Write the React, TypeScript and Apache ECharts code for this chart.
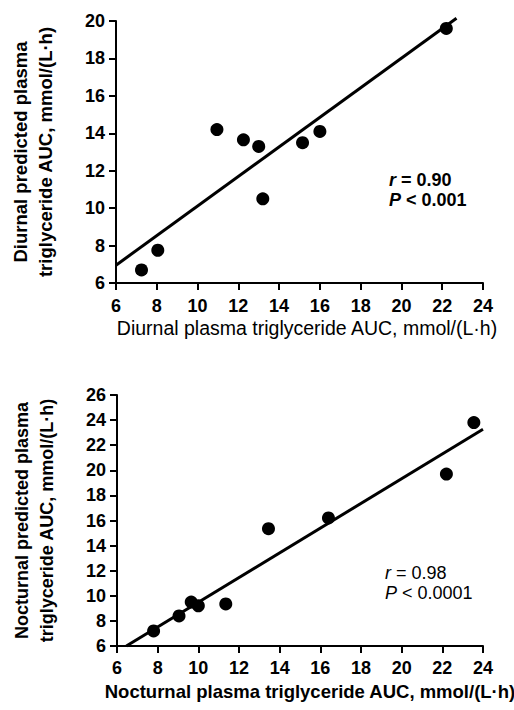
import React, { useEffect, useRef } from "react";
import * as echarts from "echarts";

const diurnalX = [7.25, 8.05, 10.95, 12.25, 13.0, 13.2, 15.15, 16.0, 22.2];
const diurnalY = [6.7, 7.75, 14.2, 13.65, 13.3, 10.5, 13.5, 14.1, 19.6];
const diurnalFit = [
  [6, 6.95],
  [22.7, 20.15],
];
const nocturnalX = [7.8, 9.05, 9.65, 10.0, 11.35, 13.45, 16.4, 22.2, 23.55];
const nocturnalY = [7.2, 8.4, 9.5, 9.2, 9.35, 15.35, 16.2, 19.7, 23.8];
const nocturnalFit = [
  [6.46, 6],
  [24, 23.27],
];
const diurnalStats = ["0.90", "0.001"];
const nocturnalStats = ["0.98", "0.0001"];
const xTitles = [
  "Diurnal plasma triglyceride AUC, mmol/(L·h)",
  "Nocturnal plasma triglyceride AUC, mmol/(L·h)",
];
const yTitles = [
  "Diurnal predicted plasma\ntriglyceride AUC, mmol/(L·h)",
  "Nocturnal predicted plasma\ntriglyceride AUC, mmol/(L·h)",
];

const FONT = "'Liberation Sans', Arial, Helvetica, sans-serif";

export default function App() {
  const ref = useRef<HTMLDivElement>(null);
  useEffect(() => {
    document.body.style.margin = "0";
    if (!ref.current) return;
    const chart = echarts.init(ref.current, undefined, { renderer: "svg" });

    const axisCommon = {
      type: "value" as const,
      interval: 2,
      splitLine: { show: false },
      axisLine: { show: true, onZero: false, lineStyle: { color: "#000", width: 2 } },
      axisTick: { show: true, inside: false, length: 7, lineStyle: { color: "#000", width: 2 } },
      axisLabel: { color: "#000", fontSize: 18, fontWeight: "bold" as const, fontFamily: FONT },
    };

    const yName = (i: number, size: number) => ({
      name: yTitles[i],
      nameLocation: "middle" as const,
      nameRotate: 90,
      nameGap: 58,
      nameTextStyle: {
        color: "#000",
        fontSize: size,
        fontWeight: "bold" as const,
        fontFamily: FONT,
        lineHeight: 25,
        align: "center" as const,
      },
    });

    const stat = (x: number, y: number, vals: string[], weight: string) => {
      const rich = { i: { fontStyle: "italic", fontSize: 18, fontWeight: weight, fontFamily: FONT, fill: "#000" } };
      return [
        {
          type: "text",
          x,
          y,
          style: {
            text: "{i|r} = " + vals[0],
            fontSize: 18,
            fontWeight: weight,
            fontFamily: FONT,
            fill: "#000",
            verticalAlign: "middle",
            rich,
          },
        },
        {
          type: "text",
          x,
          y: y + 20,
          style: {
            text: "{i|P} < " + vals[1],
            fontSize: 18,
            fontWeight: weight,
            fontFamily: FONT,
            fill: "#000",
            verticalAlign: "middle",
            rich,
          },
        },
      ];
    };

    chart.setOption({
      animation: false,
      backgroundColor: "#fff",
      grid: [
        { left: 114, top: 21, width: 369, height: 262 },
        { left: 117, top: 395, width: 366, height: 251 },
      ],
      xAxis: [
        { ...axisCommon, gridIndex: 0, min: 6, max: 24, axisLabel: { ...axisCommon.axisLabel, margin: 14 } },
        { ...axisCommon, gridIndex: 1, min: 6, max: 24, axisLabel: { ...axisCommon.axisLabel, margin: 13 } },
      ],
      yAxis: [
        { ...axisCommon, gridIndex: 0, min: 6, max: 20, axisLabel: { ...axisCommon.axisLabel, margin: 11 }, ...yName(0, 18.5) },
        { ...axisCommon, gridIndex: 1, min: 6, max: 26, axisLabel: { ...axisCommon.axisLabel, margin: 11 }, ...yName(1, 18) },
      ],
      series: [
        {
          type: "line",
          xAxisIndex: 0,
          yAxisIndex: 0,
          data: diurnalFit,
          symbol: "none",
          clip: false,
          lineStyle: { color: "#000", width: 3 },
        },
        {
          type: "scatter",
          xAxisIndex: 0,
          yAxisIndex: 0,
          data: diurnalX.map((x, i) => [x, diurnalY[i]]),
          symbolSize: 13,
          itemStyle: { color: "#000", opacity: 1 },
        },
        {
          type: "line",
          xAxisIndex: 1,
          yAxisIndex: 1,
          data: nocturnalFit,
          symbol: "none",
          clip: false,
          lineStyle: { color: "#000", width: 3 },
        },
        {
          type: "scatter",
          xAxisIndex: 1,
          yAxisIndex: 1,
          data: nocturnalX.map((x, i) => [x, nocturnalY[i]]),
          symbolSize: 13,
          itemStyle: { color: "#000", opacity: 1 },
        },
      ],
      graphic: [
        {
          type: "text",
          x: 307,
          y: 328,
          style: {
            text: xTitles[0],
            fontSize: 19.5,
            fontWeight: "normal",
            fontFamily: FONT,
            fill: "#000",
            align: "center",
            verticalAlign: "middle",
          },
        },
        {
          type: "text",
          x: 310,
          y: 691,
          style: {
            text: xTitles[1],
            fontSize: 18.5,
            fontWeight: "bold",
            fontFamily: FONT,
            fill: "#000",
            align: "center",
            verticalAlign: "middle",
          },
        },
        ...stat(389, 180, diurnalStats, "bold"),
        ...stat(385, 573, nocturnalStats, "normal"),
      ],
    });
    return () => chart.dispose();
  }, []);
  return <div ref={ref} style={{ position: "absolute", left: 0, top: 0, width: 514, height: 710 }} />;
}
